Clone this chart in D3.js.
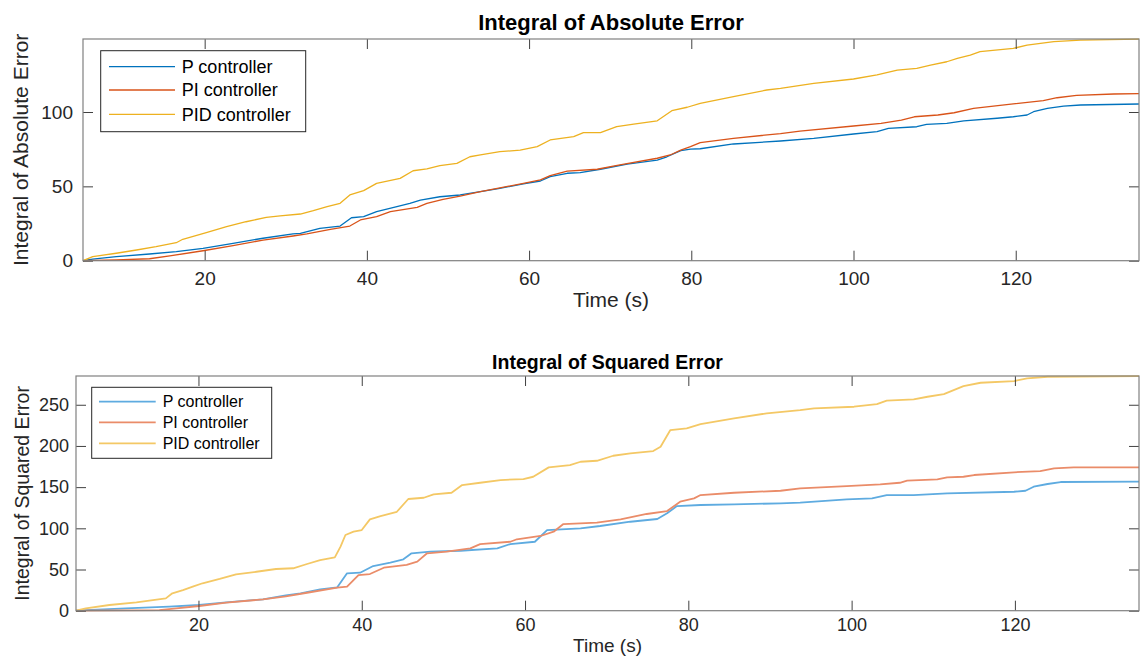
<!DOCTYPE html>
<html>
<head>
<meta charset="utf-8">
<script src="https://cdn.jsdelivr.net/npm/d3@7"></script>
<style>
  body { margin: 0; background: #fff; }
  svg { display: block; font-family: "Liberation Sans", Arial, Helvetica, sans-serif; }
  .tick text { fill: #262626; }
</style>
</head>
<body>
<div id="chart"></div>
<script>
// series names and colors
const seriesNames = ["P controller", "PI controller", "PID controller"];
const timeTicks = [20, 40, 60, 80, 100, 120];
const iaeTicks = [0, 50, 100];
const iseTicks = [0, 50, 100, 150, 200, 250];

// Integral of Absolute Error, [time, value]
const iaeP = [[5,0],[6.2,1.1],[9.1,2.7],[13.2,4.5],[16.5,6.1],[19.8,8.3],[23.5,11.7],[27.2,15.1],[30.9,18],[31.8,18.4],[34.2,21.8],[36.7,23.3],[38.1,28.9],[39.6,29.6],[41.2,33],[43.7,36.3],[45.3,38.6],[46.6,40.8],[49,43],[51.5,44.2],[54,46.4],[56.4,48.7],[59.3,51.6],[61.4,53.6],[62.6,56.5],[64.7,58.8],[66.3,59.2],[68.8,61.5],[72.1,65],[75.8,67.7],[77,69.9],[78.7,74],[79.9,75.1],[81.1,75.3],[85.2,78.5],[91,80.5],[95.1,82.3],[100,85.2],[102.9,86.8],[104.3,89],[107.8,90.1],[109,91.7],[111.5,92.4],[113.6,94.1],[117.7,95.8],[119.7,96.8],[121.4,98],[122.2,100.2],[123.9,102.5],[125.9,104],[128,104.7],[135.2,105.4]];
const iaePI = [[5,0],[9.1,0.5],[13.2,1.3],[15.7,3.2],[19.8,6.7],[23.5,10.1],[27.2,13.9],[30.9,16.6],[32.6,18],[35.5,21.1],[37.9,23.3],[39.2,27.4],[41.2,29.6],[42.9,33],[46.2,35.9],[47.4,38.6],[49.4,41.3],[51.5,43.5],[54,46.4],[56.4,49],[59.3,52],[61.4,54.3],[62.6,57.2],[64.7,60.3],[68.4,61.5],[71.2,64.4],[75.8,68.9],[77.4,71.1],[78.7,74.4],[79.9,76.7],[81.1,79.4],[85.2,82.3],[91,85.5],[93.4,87.2],[100,90.6],[103.4,92.4],[105.9,94.6],[107.5,96.8],[110.4,98],[112.4,99.5],[114.8,102.5],[119.7,105.4],[123.4,107.6],[125.1,109.6],[127.5,111.2],[132.1,112.1],[135.2,112.3]];
const iaePID = [[5,0],[6.2,2.7],[9.1,5],[11.6,7.2],[14,9.4],[16.5,12.1],[17.3,14.4],[20.2,18.8],[22.7,22.9],[25.1,26.2],[27.6,29.2],[29.3,30.1],[31.8,31.4],[33.4,33.6],[35.1,36.3],[36.7,38.6],[37.9,44.2],[39.6,47.1],[41.2,52],[44.1,55.4],[45.7,60.5],[47.4,61.7],[49,63.9],[51.1,65.5],[52.7,69.9],[54,71.1],[56.4,73.3],[58.9,74.4],[61,76.7],[62.6,81.2],[65.5,83.4],[66.7,86.1],[68.8,86.1],[70.8,90.1],[72.9,91.9],[75.8,94.1],[77.6,100.9],[79.5,103.2],[81.1,105.8],[85.2,110.3],[89.3,114.8],[91,115.9],[95.1,119.3],[100,122.2],[102.9,124.9],[105.4,128.2],[107.8,129.4],[109.5,131.6],[111.5,133.8],[112.8,136.1],[114.4,138.3],[115.6,140.6],[119.7,142.8],[121.4,145],[124.7,147.3],[128,148.4],[135.2,149]];

// Integral of Squared Error, [time, value]
const iseP = [[5,0],[6.2,0.8],[11.1,2.9],[16.4,4.9],[20.1,6.9],[23.4,10.2],[27.9,13.8],[30.7,18.5],[32.5,21.1],[34.9,26],[37,28.4],[38.2,45.4],[39.8,46.1],[41.4,54.2],[43.5,58.3],[45.1,62.4],[46.1,69.7],[48.4,71.6],[52.1,72.8],[56.6,75.7],[58.2,80.9],[61.2,83.7],[62.7,97.9],[66.8,100],[69.2,102.8],[72.9,108],[76.2,111.3],[77.4,118.2],[78.6,127],[81.5,128.3],[85.6,129.1],[91.3,130.3],[93.7,131.1],[99.4,135.2],[102.5,136.4],[104.3,140.4],[107.6,140.4],[111.7,142.5],[119.9,144.4],[121.3,145.6],[122.3,150.5],[124,153.8],[125.6,156.2],[135.2,156.6]];
const isePI = [[5,0],[15.2,0.8],[17.3,2.9],[20.1,5.7],[23.4,9.7],[27.9,13.8],[30.7,17.5],[33.3,21.8],[37,27.9],[38.2,29.1],[39.6,43.3],[41,44.5],[42.7,52.2],[45.5,55.5],[46.8,59.5],[48,69.7],[50.4,71.6],[53.3,75.7],[54.5,80.9],[58.2,83.7],[59,86.7],[61.9,90.7],[63.5,95.9],[64.7,105.2],[68.8,106.8],[71.7,110.9],[74.9,117.4],[77.4,121],[79,132.3],[80.7,136.4],[81.5,140.4],[85.6,143.2],[91.3,145.6],[93.7,148.5],[99.4,151.3],[103.5,153.4],[105.9,155.3],[106.8,157.8],[110.5,159.5],[111.7,161.9],[113.7,162.6],[115,164.7],[119.9,168],[123.1,169.5],[124.8,172.8],[127.2,174],[135.2,174]];
const isePID = [[5,0],[6.2,2.9],[9.1,6.9],[12.4,10.2],[16,15],[16.8,21.1],[18.1,25.1],[19.3,29.1],[20.5,33.3],[22.6,38.5],[24.6,44.2],[27.1,47.3],[29.5,50.6],[31.6,51.5],[33.3,56.7],[34.9,61.5],[36.7,64.8],[37.4,77.7],[38,91.9],[39,95.9],[40,97.9],[41,110.9],[42.3,114.9],[44.3,120.1],[45.7,135.6],[47.6,137.1],[48.8,141.3],[51,143.2],[52.3,152.5],[54.5,155.3],[57,158.6],[59.8,159.8],[61,162.6],[62.9,174],[65.5,176.8],[66.8,180.8],[68.8,182],[70.8,188.1],[72.9,191],[75.7,193.8],[76.6,199],[77.8,219.3],[79.8,221.4],[81.5,226.6],[85.6,233.5],[89.6,239.6],[93.7,243.5],[95.4,245.6],[100.3,247.6],[103.1,250.8],[104.3,254.9],[107.6,256.6],[109.3,259.7],[111.3,263],[112.5,267.8],[113.7,272.7],[115.8,276.7],[119.9,278.8],[121.5,282],[124,284],[135.2,284.8]];

const svg = d3.select("#chart").append("svg")
    .attr("width", 1141)
    .attr("height", 656);

drawPanel({
    left: 83, right: 1139, top: 39, bottom: 260.7,
    yMax: 149.1, yTicks: iaeTicks,
    series: [iaeP, iaePI, iaePID],
    colors: ["#0072BD", "#D95319", "#EDB120"], lineWidth: 1.3,
    title: "Integral of Absolute Error", titleSize: 22, titleY: 30,
    xLabelSize: 21, xLabelY: 307,
    yLabel: "Integral of Absolute Error", yLabelSize: 21, yLabelX: 28,
    tickSize: 19, xPad: 11, yPad: 10,
    legend: { x: 100.7, y: 50.7, w: 205, h: 81, x1: 109, x2: 175, tx: 181.7, rows: [66.7, 90, 114.3], font: 18 }
});

drawPanel({
    left: 76, right: 1139, top: 376, bottom: 610.7,
    yMax: 284.9, yTicks: iseTicks,
    series: [iseP, isePI, isePID],
    colors: ["#5eabe0", "#ea8c69", "#f4c865"], lineWidth: 1.8,
    title: "Integral of Squared Error", titleSize: 19.5, titleY: 369,
    xLabelSize: 19, xLabelY: 652,
    yLabel: "Integral of Squared Error", yLabelSize: 19.5, yLabelX: 29,
    tickSize: 18, xPad: 8, yPad: 7,
    legend: { x: 91.7, y: 387.3, w: 180, h: 71, x1: 99, x2: 155.7, tx: 162.7, rows: [401.7, 422.3, 443.3], font: 16 }
});

function drawPanel(p) {
    const x = d3.scaleLinear().domain([5, 135.2]).range([p.left, p.right]);
    const y = d3.scaleLinear().domain([0, p.yMax]).range([p.bottom, p.top]);
    const g = svg.append("g");

    const line = d3.line().x(d => x(d[0])).y(d => y(d[1]));

    g.append("g").selectAll("path")
        .data(p.series)
        .enter().append("path")
        .attr("d", line)
        .attr("fill", "none")
        .attr("stroke", (d, i) => p.colors[i])
        .attr("stroke-width", p.lineWidth)
        .attr("stroke-linejoin", "round");

    // axes with inward ticks on all four sides
    const bottomAxis = g.append("g")
        .attr("transform", `translate(0,${p.bottom})`)
        .call(d3.axisBottom(x).tickValues(timeTicks).tickSize(-10).tickPadding(p.xPad));
    const topAxis = g.append("g")
        .attr("transform", `translate(0,${p.top})`)
        .call(d3.axisTop(x).tickValues(timeTicks).tickSize(-10).tickFormat(""));
    const leftAxis = g.append("g")
        .attr("transform", `translate(${p.left},0)`)
        .call(d3.axisLeft(y).tickValues(p.yTicks).tickSize(-10).tickPadding(p.yPad));
    const rightAxis = g.append("g")
        .attr("transform", `translate(${p.right},0)`)
        .call(d3.axisRight(y).tickValues(p.yTicks).tickSize(-10).tickFormat(""));

    [bottomAxis, topAxis, leftAxis, rightAxis].forEach(a => {
        a.select(".domain").remove();
        a.selectAll(".tick line").attr("stroke", "#404040");
        a.selectAll(".tick text").attr("font-size", p.tickSize).attr("font-family", null);
    });

    g.append("rect")
        .attr("x", p.left)
        .attr("y", p.top)
        .attr("width", p.right - p.left)
        .attr("height", p.bottom - p.top)
        .attr("fill", "none")
        .attr("stroke", "#808080")
        .attr("stroke-width", 1.2);

    const cx = (p.left + p.right) / 2;

    g.append("text")
        .attr("x", cx)
        .attr("y", p.titleY)
        .attr("text-anchor", "middle")
        .attr("font-weight", "bold")
        .attr("font-size", p.titleSize)
        .attr("fill", "#000")
        .text(p.title);

    g.append("text")
        .attr("x", cx)
        .attr("y", p.xLabelY)
        .attr("text-anchor", "middle")
        .attr("font-size", p.xLabelSize)
        .attr("fill", "#262626")
        .text("Time (s)");

    const cy = (p.top + p.bottom) / 2;
    g.append("text")
        .attr("transform", `translate(${p.yLabelX},${cy}) rotate(-90)`)
        .attr("text-anchor", "middle")
        .attr("font-size", p.yLabelSize)
        .attr("fill", "#262626")
        .text(p.yLabel);

    // legend
    const lg = p.legend;
    g.append("rect")
        .attr("x", lg.x)
        .attr("y", lg.y)
        .attr("width", lg.w)
        .attr("height", lg.h)
        .attr("fill", "#fff")
        .attr("stroke", "#262626")
        .attr("stroke-width", 1);

    const item = g.selectAll(".legend-item")
        .data(seriesNames)
        .enter().append("g")
        .attr("class", "legend-item")
        .attr("transform", (d, i) => `translate(0,${lg.rows[i]})`);

    item.append("line")
        .attr("x1", lg.x1)
        .attr("x2", lg.x2)
        .attr("stroke", (d, i) => p.colors[i])
        .attr("stroke-width", p.lineWidth);

    item.append("text")
        .attr("x", lg.tx)
        .attr("dy", "0.35em")
        .attr("font-size", lg.font)
        .attr("fill", "#000")
        .text(d => d);
}
</script>
</body>
</html>
